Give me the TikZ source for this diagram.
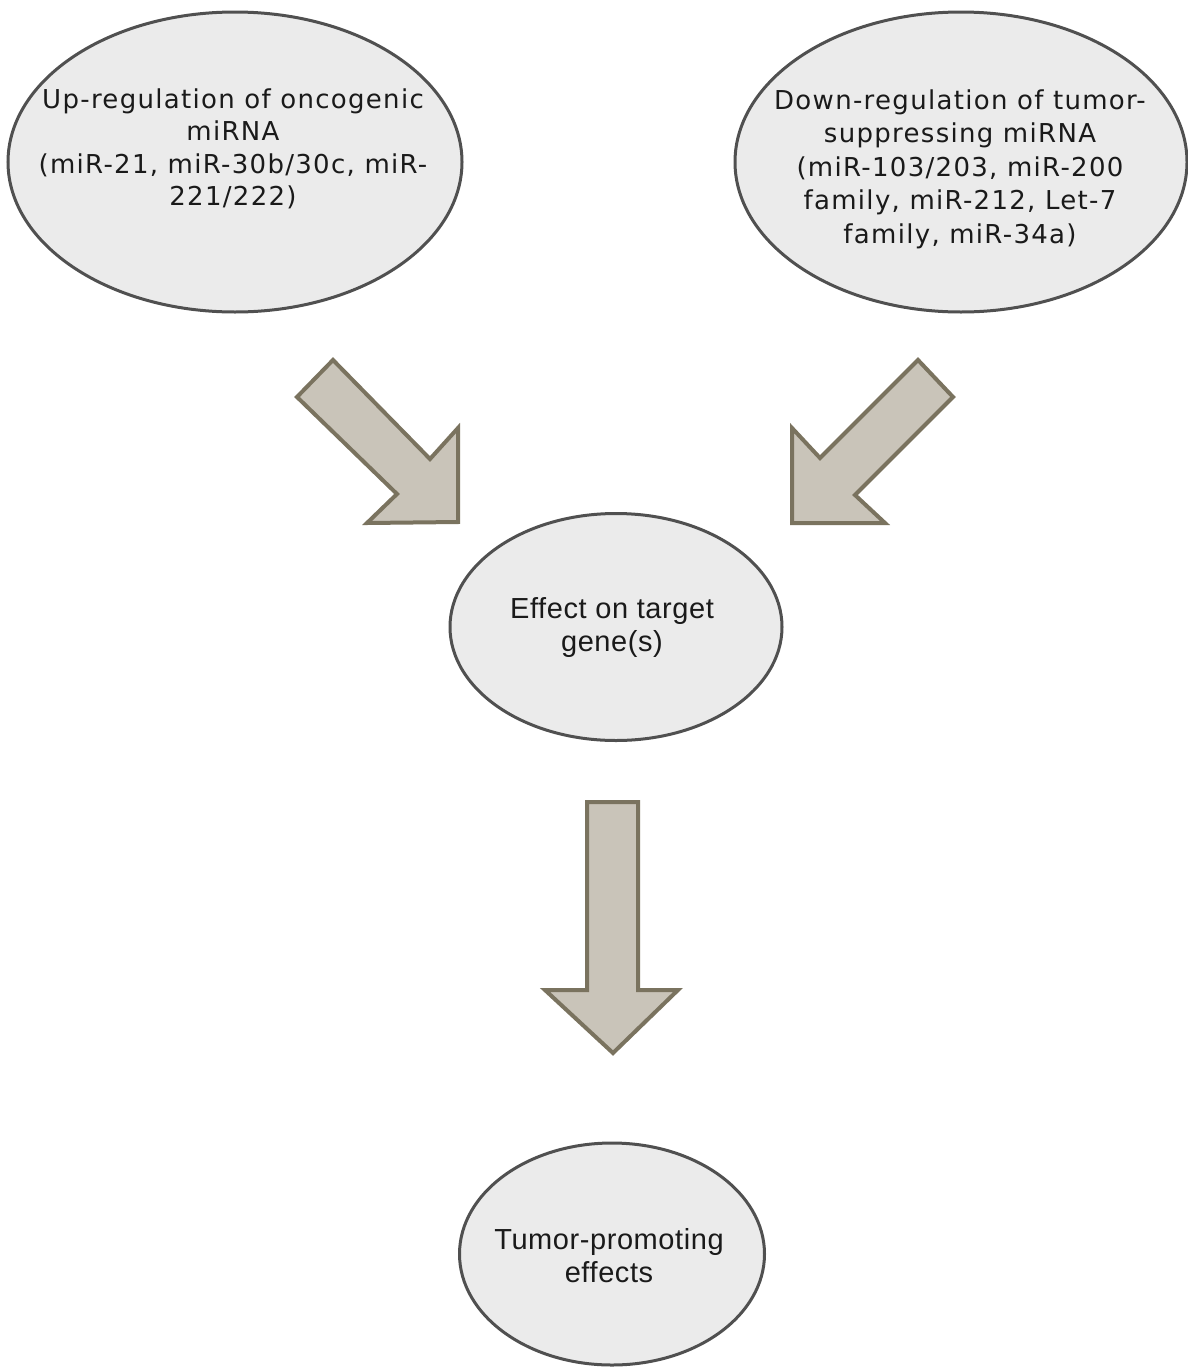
\documentclass[tikz,border=0pt]{standalone}
\usepackage{fontspec}
\setmainfont{Liberation Sans}
\newfontfamily\verd[LetterSpace=5]{DejaVu Sans}
\newfontfamily\helv[LetterSpace=2]{Liberation Sans}
\usetikzlibrary{shapes.geometric}
\definecolor{ellfill}{HTML}{EBEBEB}
\definecolor{elldraw}{HTML}{505050}
\definecolor{arrfill}{HTML}{C9C4B9}
\definecolor{arrdraw}{HTML}{7A735F}
\definecolor{txt}{HTML}{1A1A1A}
\begin{document}
\begin{tikzpicture}[x=1pt,y=-1pt,
  bubble/.style={ellipse, draw=elldraw, fill=ellfill, line width=3pt, inner sep=0pt},
  vtext/.style={align=center, text=txt, font=\verd\fontsize{26}{32.5}\selectfont},
  vtextb/.style={align=center, text=txt, font=\verd\fontsize{26}{33.5}\selectfont},
  htext/.style={align=center, text=txt, font=\helv\fontsize{29}{33}\selectfont},
  blockarrow/.style={draw=arrdraw, fill=arrfill, line width=4pt, line join=miter}]
\useasboundingbox (0,0) rectangle (1188,1368);
\fill[white] (0,0) rectangle (1188,1368);
% ellipses
\node[bubble, minimum width=454pt, minimum height=300pt] (up) at (235,162) {};
\node[bubble, minimum width=452pt, minimum height=300pt] (down) at (961,162) {};
\node[bubble, minimum width=332pt, minimum height=227pt] (effect) at (616,627) {};
\node[bubble, minimum width=305pt, minimum height=222pt] (tumor) at (612,1254) {};
% texts
\node[vtext] (upt) at (233,149) {Up-regulation of oncogenic\\miRNA\\(miR-21, miR-30b/30c, miR-\\221/222)};
\node[vtextb] (downt) at (960,169) {Down-regulation of tumor-\\suppressing miRNA\\(miR-103/203, miR-200\\family, miR-212, Let-7\\family, miR-34a)};
\node[htext] (effectt) at (612,628) {Effect on target\\gene(s)};
\node[htext] (tumort) at (609,1256) {Tumor-promoting\\effects};
% block arrows
\draw[blockarrow] (333,360) -- (430,459) -- (458,428) -- (458,522) -- (367,523) -- (397,494) -- (297,397) -- cycle;
\draw[blockarrow] (918,360) -- (953,397) -- (855,495) -- (885,523) -- (792,523) -- (792,428) -- (820,458) -- cycle;
\draw[blockarrow] (587,802) -- (638,802) -- (638,990) -- (678,990) -- (613,1053) -- (545,990) -- (587,990) -- cycle;
\end{tikzpicture}
\end{document}
